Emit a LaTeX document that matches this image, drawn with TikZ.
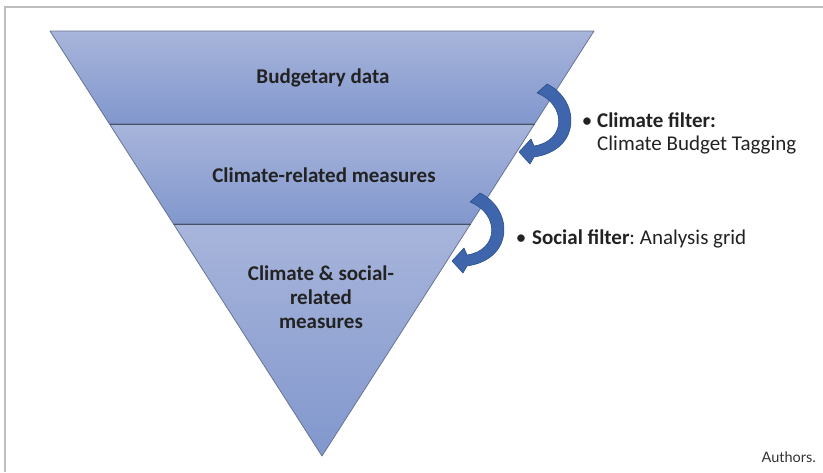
\documentclass[tikz,border=0pt]{standalone}
\usepackage{fontspec}
\setmainfont{Carlito}
\newfontfamily\creditfont{Lato}
\frenchspacing
\definecolor{bandtop}{RGB}{168,181,219}
\definecolor{bandbot}{RGB}{129,151,205}
\definecolor{bandedge}{RGB}{104,116,146}
\definecolor{banddiv}{RGB}{70,80,102}
\definecolor{arrowfill}{RGB}{63,102,172}
\definecolor{arrowedge}{RGB}{44,78,140}
\definecolor{inktext}{RGB}{34,34,34}
\definecolor{framegrey}{RGB}{190,190,190}
\begin{document}
\begin{tikzpicture}[x=1pt,y=-1pt,
  frame/.style={draw=framegrey,line width=2pt},
  band/.style={top color=bandtop,bottom color=bandbot,draw=bandedge,line width=0.8pt,line join=round},
  divider/.style={draw=banddiv,line width=1pt},
  levellabel/.style={font=\fontsize{21}{24}\selectfont\bfseries,text=inktext,align=center,inner sep=0pt},
  filtertext/.style={font=\fontsize{21}{23}\selectfont,text=inktext,align=left,inner sep=0pt,anchor=base west},
  bulletmark/.style={font=\fontsize{21}{23}\selectfont,text=inktext,inner sep=0pt,anchor=base},
  credit/.style={font=\creditfont\fontsize{14.5}{16}\selectfont,text=black!80,inner sep=0pt,anchor=base east},
  filterarrow/.pic={
    \filldraw[fill=arrowfill,draw=arrowedge,line width=0.6pt,line join=round]
      (547,84) .. controls (580,100) and (582,150) .. (534,157)
      -- (530,164) -- (519,152) -- (531,139) -- (534,146)
      .. controls (567,141) and (566,104) .. (537,93) -- cycle;
  }]
\useasboundingbox (0,0) rectangle (823,472);

% frame (top and left rules only)
\draw[frame] (823,7) -- (4.5,7) -- (4.5,472);

% corner points of the inverted pyramid
\coordinate (tl) at (50,31);
\coordinate (tr) at (594,31);
\coordinate (l1) at (109.5,124);
\coordinate (r1) at (534.5,124);
\coordinate (l2) at (173.5,224);
\coordinate (r2) at (470.5,224);
\coordinate (apex) at (322,456);

% the three levels
\shadedraw[band] (tl) -- (tr) -- (r1) -- (l1) -- cycle;
\shadedraw[band] (l1) -- (r1) -- (r2) -- (l2) -- cycle;
\shadedraw[band] (l2) -- (r2) -- (apex) -- cycle;
\draw[divider] (l1) -- (r1);
\draw[divider] (l2) -- (r2);

% level labels (a multi-line node sits on the baseline of its last line)
\node[levellabel,anchor=base] (budget) at (323,83) {Budgetary data};
\node[levellabel,anchor=base] (climrel) at (324,182) {Climate-related measures};
\node[levellabel,anchor=base] (socrel) at (321,328)
  {Climate \& social-\\related\\measures};

% filter arrows between levels
\pic at (0,0) {filterarrow};
\pic at (-67,109) {filterarrow};

% filter descriptions
\node[bulletmark] (cfdot) at (587,127) {•};
\node[filtertext] (cftext) at (597,150)
  {\textbf{Climate filter:}\\Climate Budget Tagging};
\node[bulletmark] (sfdot) at (521,244) {•};
\node[filtertext] (sftext) at (532,244)
  {\textbf{Social filter}: Analysis grid};

% source note
\node[credit] (source) at (816,462) {Authors.};
\end{tikzpicture}
\end{document}
